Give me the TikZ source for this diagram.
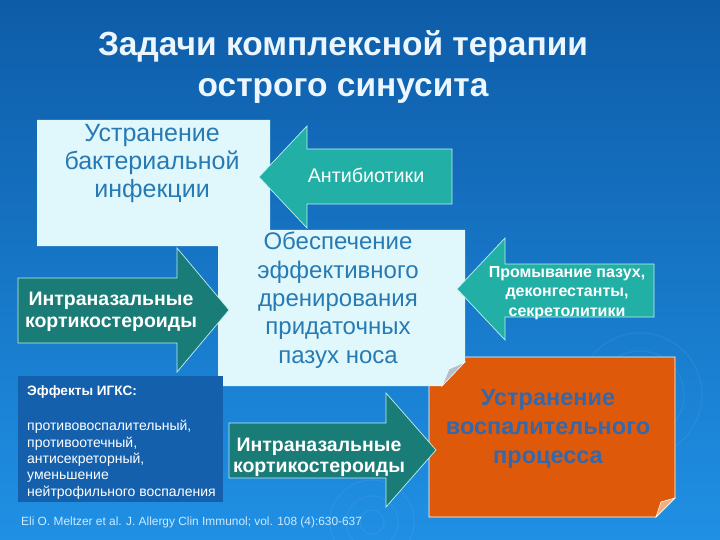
\documentclass[tikz,border=0pt]{standalone}
\usepackage{fontspec}
\setmainfont{Liberation Sans}
\definecolor{bgtop}{RGB}{14,92,168}
\definecolor{bgbot}{RGB}{32,144,228}
\definecolor{boxlight}{RGB}{224,248,252}
\definecolor{boxtext}{RGB}{40,122,180}
\definecolor{tealA}{RGB}{34,176,166}
\definecolor{tealB}{RGB}{26,124,118}
\definecolor{orangebox}{RGB}{222,90,10}
\definecolor{orangetext}{RGB}{52,104,170}
\definecolor{effbox}{RGB}{20,96,172}
\definecolor{titlecol}{RGB}{235,246,255}
\definecolor{citecol}{RGB}{205,235,255}
\definecolor{arrowedge}{RGB}{190,240,240}
\definecolor{curlgrey}{RGB}{180,192,200}
\definecolor{curlpeach}{RGB}{240,175,130}
\tikzset{
  arrowlight/.style={fill=tealA, draw=arrowedge, line width=0.7pt},
  arrowdark/.style={fill=tealB, draw=arrowedge, line width=0.7pt},
  lightbox/.style={fill=boxlight},
  curlfold/.style={fill=curlgrey, draw=white, line width=0.5pt},
  lighttext/.style={text=boxtext, align=center, inner sep=0pt, font=\fontsize{25}{27.5}\selectfont},
  arrowtext/.style={text=white, align=center, inner sep=0pt, font=\bfseries\fontsize{19.5}{22}\selectfont},
}
\begin{document}
\begin{tikzpicture}[x=1pt,y=-1pt]
\useasboundingbox (0,0) rectangle (720,540);
% background
\shade[top color=bgtop, bottom color=bgbot] (0,0) rectangle (720,540);
% faint ripples
\foreach \r in {14,28,44,62}{
  \draw[white, opacity=0.06, line width=1.2pt] (640,395) circle (\r);
}
\foreach \r in {12,26,42}{
  \draw[white, opacity=0.05, line width=1.2pt] (372,522) circle (\r);
}
% title (base anchor = last line)
\node[text=titlecol, align=center, inner sep=0pt, anchor=base,
      font=\bfseries\fontsize{33.5}{41}\selectfont] (title) at (343,97)
  {Задачи комплексной терапии\\острого синусита};
% bacterial box
\fill[lightbox] (37,120) -- (270,120) -- (270,233) -- (256,246) -- (37,246) -- cycle;
\filldraw[curlfold] (256,246) -- (261,236) -- (270,233) -- cycle;
\node[lighttext, anchor=base] (bact) at (152,197) {Устранение\\бактериальной\\инфекции};
% antibiotic arrow
\draw[arrowlight] (452,149) -- (307,149) -- (307,126) -- (259,177) -- (307,228) -- (307,204) -- (452,204) -- cycle;
\node[text=white, inner sep=0pt, anchor=base, font=\fontsize{19.7}{22}\selectfont] (anti) at (366,183) {Антибиотики};
% orange box
\filldraw[fill=orangebox, draw=white, line width=0.8pt] (429,357) -- (675,357) -- (675,498) -- (656,517) -- (429,517) -- cycle;
\filldraw[fill=curlpeach, draw=white, line width=0.6pt] (656,517) -- (661,502) -- (675,498) -- cycle;
\node[text=orangetext, align=center, inner sep=0pt, anchor=base,
      font=\bfseries\fontsize{23.5}{29}\selectfont] (goal) at (548,463)
  {Устранение\\воспалительного\\процесса};
% centre box
\fill[lightbox] (218,230) -- (465,230) -- (465,362) -- (442,386) -- (218,386) -- cycle;
\filldraw[curlfold] (442,386) -- (449,369) -- (465,362) -- cycle;
\node[lighttext, anchor=base, font=\fontsize{24}{28.3}\selectfont] (drain) at (338,363)
  {Обеспечение\\эффективного\\дренирования\\придаточных\\пазух носа};
% intranasal arrow 1
\draw[arrowdark] (18,278) -- (177,278) -- (177,248) -- (229,310) -- (177,372) -- (177,343) -- (18,343) -- cycle;
\node[arrowtext, anchor=base] (ins1) at (111,327) {Интраназальные\\кортикостероиды};
% rinsing arrow
\draw[arrowlight] (654,264) -- (505,264) -- (505,238) -- (457,289) -- (505,340) -- (505,317) -- (654,317) -- cycle;
\node[text=white, align=center, inner sep=0pt, anchor=base,
      font=\bfseries\fontsize{16}{19.5}\selectfont] (rinse) at (567,316)
  {Промывание пазух,\\деконгестанты,\\секретолитики};
% effects box
\fill[effbox] (18,376) rectangle (223,502);
\node[text=white, inner sep=0pt, anchor=base west, font=\bfseries\fontsize{13.6}{16}\selectfont] (effh) at (27,395) {Эффекты ИГКС:};
\node[text=white, align=left, inner sep=0pt, anchor=base west, font=\fontsize{14}{16.3}\selectfont] (effb) at (27,496)
  {противовоспалительный,\\противоотечный,\\антисекреторный,\\уменьшение\\нейтрофильного воспаления};
% intranasal arrow 2
\draw[arrowdark] (229,423) -- (386,423) -- (386,393) -- (436,450) -- (386,507) -- (386,478) -- (229,478) -- cycle;
\node[arrowtext, anchor=base, font=\bfseries\fontsize{19.5}{21}\selectfont] (ins2) at (319,472) {Интраназальные\\кортикостероиды};
% citation
\node[text=citecol, inner sep=0pt, anchor=base west, font=\fontsize{11.9}{13}\selectfont] (cite) at (21,525)
  {Eli O. Meltzer et al. J. Allergy Clin Immunol; vol. 108 (4):630-637};
\end{tikzpicture}
\end{document}
